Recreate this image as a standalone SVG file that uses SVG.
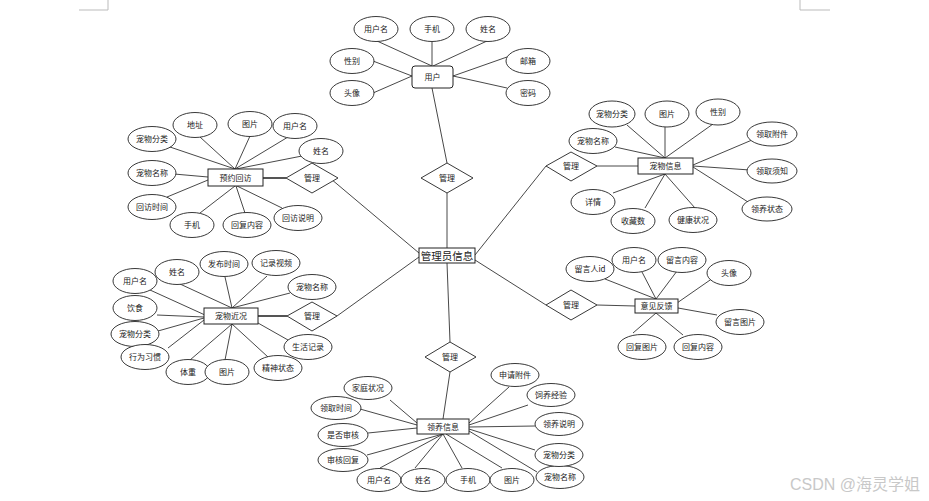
<svg xmlns="http://www.w3.org/2000/svg" width="929" height="501" viewBox="0 0 929 501">
<style>
.c line{stroke:#333;stroke-width:0.9}
.c line.k{stroke:#555;stroke-width:2}
.a ellipse{fill:#fff;stroke:#222;stroke-width:0.9}
.r{fill:#fff;stroke:#222;stroke-width:1}
.d{fill:#fff;stroke:#222;stroke-width:0.9}
text{font-family:"Noto Sans CJK SC","Liberation Sans",sans-serif;font-size:8px;fill:#222;text-anchor:middle}
.big{font-size:10.5px}
.wm{font-family:"Liberation Sans","Noto Sans CJK SC",sans-serif;font-size:16px;fill:#c8c8c8;text-anchor:start}
.pm{stroke:#bbb;stroke-width:1;fill:none}
</style>
<rect width="929" height="501" fill="#fff"/>
<path class="pm" d="M108 0V10H79"/>
<path class="pm" d="M800 0V10H830"/>
<g id="connectors" class="c">
<!-- relationships -->
<line x1="432" y1="88" x2="447" y2="163"/>
<line x1="447" y1="193" x2="447" y2="248"/>
<line x1="312" y1="163" x2="419" y2="253"/>
<line class="k" x1="263" y1="178" x2="286" y2="178"/>
<line x1="546" y1="166" x2="475" y2="255"/>
<line x1="597" y1="166" x2="638" y2="166"/>
<line x1="337" y1="316" x2="419" y2="257"/>
<line class="k" x1="258" y1="316" x2="287" y2="316"/>
<line x1="475" y1="260" x2="546" y2="305"/>
<line x1="597" y1="305" x2="635" y2="306"/>
<line x1="447" y1="263" x2="450" y2="342"/>
<line x1="450" y1="372" x2="443" y2="419"/>
<!-- 用户 -->
<line x1="377" y1="41" x2="432" y2="66"/>
<line x1="432" y1="42" x2="432" y2="66"/>
<line x1="487" y1="41" x2="433" y2="66"/>
<line x1="373" y1="61" x2="412" y2="76"/>
<line x1="373" y1="93" x2="412" y2="76"/>
<line x1="507" y1="57" x2="453" y2="76"/>
<line x1="507" y1="88" x2="453" y2="76"/>
<!-- 预约回访 -->
<line x1="200" y1="137" x2="235" y2="169"/>
<line x1="250" y1="136" x2="235" y2="169"/>
<line x1="288" y1="137" x2="235" y2="169"/>
<line x1="302" y1="156" x2="236" y2="169"/>
<line x1="167" y1="146" x2="235" y2="169"/>
<line x1="174" y1="174" x2="208" y2="177"/>
<line x1="167" y1="197" x2="208" y2="180"/>
<line x1="200" y1="213" x2="235" y2="186"/>
<line x1="245" y1="213" x2="236" y2="186"/>
<line x1="282" y1="208" x2="237" y2="186"/>
<!-- 宠物信息 -->
<line x1="627" y1="125" x2="665" y2="158"/>
<line x1="665" y1="127" x2="665" y2="158"/>
<line x1="713" y1="124" x2="665" y2="158"/>
<line x1="615" y1="147" x2="665" y2="158"/>
<line x1="752" y1="140" x2="693" y2="165"/>
<line x1="750" y1="170" x2="693" y2="166"/>
<line x1="748" y1="202" x2="693" y2="167"/>
<line x1="613" y1="193" x2="665" y2="174"/>
<line x1="645" y1="208" x2="665" y2="174"/>
<line x1="695" y1="208" x2="665" y2="174"/>
<!-- 宠物近况 -->
<line x1="150" y1="290" x2="205" y2="315"/>
<line x1="180" y1="284" x2="232" y2="308"/>
<line x1="225" y1="277" x2="232" y2="308"/>
<line x1="267" y1="276" x2="232" y2="308"/>
<line x1="290" y1="293" x2="232" y2="308"/>
<line x1="157" y1="315" x2="204" y2="317"/>
<line x1="158" y1="331" x2="204" y2="318"/>
<line x1="168" y1="348" x2="204" y2="320"/>
<line x1="190" y1="360" x2="232" y2="324"/>
<line x1="225" y1="360" x2="232" y2="324"/>
<line x1="268" y1="357" x2="232" y2="324"/>
<line x1="288" y1="340" x2="258" y2="323"/>
<!-- 意见反馈 -->
<line x1="605" y1="279" x2="656" y2="299"/>
<line x1="642" y1="272" x2="656" y2="299"/>
<line x1="677" y1="271" x2="656" y2="299"/>
<line x1="713" y1="278" x2="677" y2="303"/>
<line x1="717" y1="315" x2="678" y2="308"/>
<line x1="633" y1="333" x2="656" y2="313"/>
<line x1="683" y1="335" x2="656" y2="313"/>
<!-- 领养信息 -->
<line x1="390" y1="400" x2="417" y2="423"/>
<line x1="360" y1="409" x2="417" y2="425"/>
<line x1="368" y1="433" x2="417" y2="428"/>
<line x1="367" y1="455" x2="443" y2="434"/>
<line x1="380" y1="468" x2="443" y2="434"/>
<line x1="415" y1="468" x2="443" y2="434"/>
<line x1="462" y1="468" x2="443" y2="434"/>
<line x1="502" y1="468" x2="446" y2="434"/>
<line x1="537" y1="472" x2="469" y2="431"/>
<line x1="535" y1="450" x2="469" y2="429"/>
<line x1="535" y1="426" x2="469" y2="427"/>
<line x1="528" y1="405" x2="469" y2="425"/>
<line x1="509" y1="387" x2="469" y2="423"/>
</g>

<g id="admin"><rect class="r" x="419" y="248" width="56" height="15"/><text class="big" x="447" y="259.5">管理员信息</text></g>

<g id="rel-user"><path class="d" d="M447 163L473 178L447 193L421 178Z"/><text x="447" y="181">管理</text></g>
<g id="rel-visit"><path class="d" d="M312 163L338 178L312 193L286 178Z"/><text x="312" y="181">管理</text></g>
<g id="rel-pet"><path class="d" d="M571 152L597 166L571 181L546 166Z"/><text x="571" y="169">管理</text></g>
<g id="rel-status"><path class="d" d="M312 302L337 316L312 331L287 316Z"/><text x="312" y="319">管理</text></g>
<g id="rel-feedback"><path class="d" d="M571 290L597 305L571 320L546 305Z"/><text x="571" y="308">管理</text></g>
<g id="rel-adopt"><path class="d" d="M450 342L476 357L450 372L425 357Z"/><text x="450" y="360">管理</text></g>

<g id="user"><rect class="r" x="412" y="66" width="41" height="22" rx="3"/><text x="432.5" y="80">用户</text></g>
<g id="visit"><rect class="r" x="208" y="169" width="55" height="17"/><text x="235.5" y="180.5">预约回访</text></g>
<g id="petinfo"><rect class="r" x="638" y="158" width="55" height="16"/><text x="665.5" y="169">宠物信息</text></g>
<g id="petstatus"><rect class="r" x="204" y="308" width="54" height="16"/><text x="231" y="319">宠物近况</text></g>
<g id="feedback"><rect class="r" x="635" y="299" width="43" height="14"/><text x="656.5" y="309">意见反馈</text></g>
<g id="adopt"><rect class="r" x="417" y="419" width="52" height="15"/><text x="443" y="429.5">领养信息</text></g>

<g class="a">
<!-- 用户 attrs -->
<g id="u1"><ellipse cx="376" cy="29" rx="22" ry="12.5"/><text x="376" y="32">用户名</text></g>
<g id="u2"><ellipse cx="432" cy="29" rx="22" ry="12.5"/><text x="432" y="32">手机</text></g>
<g id="u3"><ellipse cx="488" cy="29" rx="22" ry="12.5"/><text x="488" y="32">姓名</text></g>
<g id="u4"><ellipse cx="352" cy="61" rx="22" ry="12.5"/><text x="352" y="64">性别</text></g>
<g id="u5"><ellipse cx="352" cy="93" rx="22" ry="12.5"/><text x="352" y="96">头像</text></g>
<g id="u6"><ellipse cx="528" cy="61" rx="22" ry="12.5"/><text x="528" y="64">邮箱</text></g>
<g id="u7"><ellipse cx="528" cy="93" rx="22" ry="12.5"/><text x="528" y="96">密码</text></g>
<!-- 预约回访 attrs -->
<g id="v1"><ellipse cx="195" cy="125" rx="22" ry="12.5"/><text x="195" y="128">地址</text></g>
<g id="v2"><ellipse cx="250" cy="124" rx="22" ry="12.5"/><text x="250" y="127">图片</text></g>
<g id="v3"><ellipse cx="295" cy="126" rx="22" ry="12.5"/><text x="295" y="129">用户名</text></g>
<g id="v4"><ellipse cx="321" cy="151" rx="22" ry="12.5"/><text x="321" y="154">姓名</text></g>
<g id="v5"><ellipse cx="152" cy="139" rx="24" ry="12.5"/><text x="152" y="142">宠物分类</text></g>
<g id="v6"><ellipse cx="152" cy="173" rx="24" ry="12.5"/><text x="152" y="176">宠物名称</text></g>
<g id="v7"><ellipse cx="152" cy="207" rx="24" ry="12.5"/><text x="152" y="210">回访时间</text></g>
<g id="v8"><ellipse cx="192" cy="225" rx="22" ry="12.5"/><text x="192" y="228">手机</text></g>
<g id="v9"><ellipse cx="247" cy="225" rx="24" ry="12.5"/><text x="247" y="228">回复内容</text></g>
<g id="v10"><ellipse cx="298" cy="218" rx="24" ry="12.5"/><text x="298" y="221">回访说明</text></g>
<!-- 宠物信息 attrs -->
<g id="p1"><ellipse cx="612" cy="114" rx="23" ry="13"/><text x="612" y="117">宠物分类</text></g>
<g id="p2"><ellipse cx="667" cy="114" rx="22" ry="13"/><text x="667" y="117">图片</text></g>
<g id="p3"><ellipse cx="718" cy="112" rx="22" ry="13"/><text x="718" y="115">性别</text></g>
<g id="p4"><ellipse cx="593" cy="141" rx="24" ry="12.5"/><text x="593" y="144">宠物名称</text></g>
<g id="p5"><ellipse cx="772" cy="134" rx="25" ry="12"/><text x="772" y="137">领取附件</text></g>
<g id="p6"><ellipse cx="772" cy="171" rx="25" ry="12"/><text x="772" y="174">领取须知</text></g>
<g id="p7"><ellipse cx="767" cy="209" rx="25" ry="12"/><text x="767" y="212">领养状态</text></g>
<g id="p8"><ellipse cx="593" cy="202" rx="22" ry="12.5"/><text x="593" y="205">详情</text></g>
<g id="p9"><ellipse cx="633" cy="221" rx="22" ry="12.5"/><text x="633" y="224">收藏数</text></g>
<g id="p10"><ellipse cx="693" cy="220" rx="24" ry="12.5"/><text x="693" y="223">健康状况</text></g>
<!-- 宠物近况 attrs -->
<g id="s1"><ellipse cx="135" cy="281" rx="22" ry="12.5"/><text x="135" y="284">用户名</text></g>
<g id="s2"><ellipse cx="177" cy="272" rx="22" ry="12.5"/><text x="177" y="275">姓名</text></g>
<g id="s3"><ellipse cx="224" cy="264" rx="24" ry="12.5"/><text x="224" y="267">发布时间</text></g>
<g id="s4"><ellipse cx="276" cy="263" rx="24" ry="12.5"/><text x="276" y="266">记录视频</text></g>
<g id="s5"><ellipse cx="312" cy="287" rx="24" ry="12.5"/><text x="312" y="290">宠物名称</text></g>
<g id="s6"><ellipse cx="135" cy="308" rx="22" ry="12.5"/><text x="135" y="311">饮食</text></g>
<g id="s7"><ellipse cx="135" cy="334" rx="24" ry="12.5"/><text x="135" y="337">宠物分类</text></g>
<g id="s8"><ellipse cx="145" cy="357" rx="24" ry="12.5"/><text x="145" y="360">行为习惯</text></g>
<g id="s9"><ellipse cx="188" cy="372" rx="22" ry="12.5"/><text x="188" y="375">体重</text></g>
<g id="s10"><ellipse cx="227" cy="372" rx="22" ry="12.5"/><text x="227" y="375">图片</text></g>
<g id="s11"><ellipse cx="278" cy="368" rx="24" ry="12.5"/><text x="278" y="371">精神状态</text></g>
<g id="s12"><ellipse cx="308" cy="347" rx="24" ry="12.5"/><text x="308" y="350">生活记录</text></g>
<!-- 意见反馈 attrs -->
<g id="f1"><ellipse cx="590" cy="269" rx="24" ry="12.5"/><text x="590" y="272">留言人id</text></g>
<g id="f2"><ellipse cx="634" cy="260" rx="22" ry="12.5"/><text x="634" y="263">用户名</text></g>
<g id="f3"><ellipse cx="682" cy="260" rx="24" ry="12.5"/><text x="682" y="263">留言内容</text></g>
<g id="f4"><ellipse cx="729" cy="273" rx="22" ry="12.5"/><text x="729" y="276">头像</text></g>
<g id="f5"><ellipse cx="740" cy="322" rx="24" ry="12.5"/><text x="740" y="325">留言图片</text></g>
<g id="f6"><ellipse cx="642" cy="347" rx="24" ry="12.5"/><text x="642" y="350">回复图片</text></g>
<g id="f7"><ellipse cx="698" cy="347" rx="24" ry="12.5"/><text x="698" y="350">回复内容</text></g>
<!-- 领养信息 attrs -->
<g id="a1"><ellipse cx="368" cy="388" rx="24" ry="11.5"/><text x="368" y="391">家庭状况</text></g>
<g id="a2"><ellipse cx="336" cy="408" rx="25" ry="11.5"/><text x="336" y="411">领取时间</text></g>
<g id="a3"><ellipse cx="343" cy="435" rx="25" ry="11.5"/><text x="343" y="438">是否审核</text></g>
<g id="a4"><ellipse cx="343" cy="460" rx="25" ry="11.5"/><text x="343" y="463">审核回复</text></g>
<g id="a5"><ellipse cx="379" cy="480" rx="22" ry="11.5"/><text x="379" y="483">用户名</text></g>
<g id="a6"><ellipse cx="423" cy="480" rx="22" ry="11.5"/><text x="423" y="483">姓名</text></g>
<g id="a7"><ellipse cx="468" cy="480" rx="22" ry="11.5"/><text x="468" y="483">手机</text></g>
<g id="a8"><ellipse cx="512" cy="480" rx="22" ry="11.5"/><text x="512" y="483">图片</text></g>
<g id="a9"><ellipse cx="560" cy="477" rx="24" ry="11.5"/><text x="560" y="480">宠物名称</text></g>
<g id="a10"><ellipse cx="559" cy="455" rx="24" ry="11.5"/><text x="559" y="458">宠物分类</text></g>
<g id="a11"><ellipse cx="559" cy="424" rx="24" ry="11.5"/><text x="559" y="427">领养说明</text></g>
<g id="a12"><ellipse cx="551" cy="395" rx="24" ry="11.5"/><text x="551" y="398">饲养经验</text></g>
<g id="a13"><ellipse cx="515" cy="375" rx="24" ry="11.5"/><text x="515" y="378">申请附件</text></g>
</g>
<text class="wm" x="790" y="490">CSDN @海灵学姐</text>
</svg>
